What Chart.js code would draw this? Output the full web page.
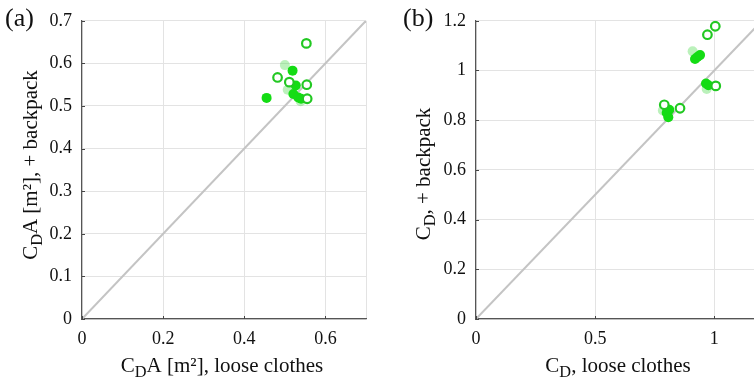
<!DOCTYPE html>
<html>
<head>
<meta charset="utf-8">
<script src="https://cdn.jsdelivr.net/npm/chart.js@4.4.1/dist/chart.umd.min.js"></script>
<style>
html,body{margin:0;padding:0;background:#fff;overflow:hidden;width:754px;height:384px;}
#wa{position:absolute;left:0;top:0;width:380px;height:384px;}
#wb{position:absolute;left:380px;top:0;width:410px;height:384px;}
</style>
</head>
<body>
<div id="wa"><canvas id="ca" width="380" height="384"></canvas></div>
<div id="wb"><canvas id="cb" width="410" height="384"></canvas></div>
<script>
// ---- Panel (a): CdA [m²] ----
const aHollowX = [0.553, 0.482, 0.511, 0.554, 0.555];
const aHollowY = [0.647, 0.567, 0.556, 0.550, 0.517];
const aFilledX = [0.519, 0.527, 0.455, 0.521, 0.533, 0.540];
const aFilledY = [0.583, 0.548, 0.519, 0.528, 0.520, 0.517];
const aFadedX  = [0.500, 0.507, 0.539];
const aFadedY  = [0.596, 0.538, 0.511];
const aXTicks = [0, 0.2, 0.4, 0.6];
const aYTicks = [0, 0.1, 0.2, 0.3, 0.4, 0.5, 0.6, 0.7];

// ---- Panel (b): Cd ----
const bHollowX = [1.004, 0.971, 1.006, 0.856, 0.790];
const bHollowY = [1.178, 1.144, 0.938, 0.848, 0.862];
const bFilledX = [0.919, 0.929, 0.940, 0.965, 0.975, 0.811, 0.807, 0.800];
const bFilledY = [1.046, 1.054, 1.062, 0.948, 0.941, 0.842, 0.812, 0.830];
const bFadedX  = [0.909, 0.968, 0.784];
const bFadedY  = [1.077, 0.926, 0.839];
const bXTicks = [0, 0.5, 1];
const bYTicks = [0, 0.2, 0.4, 0.6, 0.8, 1, 1.2];

const SERIF = "'Liberation Serif', 'DejaVu Serif', serif";
const TEXT = '#111111';
const pts = (xs, ys) => xs.map((x, i) => ({x: x, y: ys[i]}));
const fmt = v => String(+(+v).toFixed(2));

function drawRich(ctx, segs, size) {
  let x = 0;
  segs.forEach(s => {
    const fs = s.sub ? size * 0.78 : size;
    ctx.font = fs + 'px ' + SERIF;
    ctx.fillText(s.t, x, s.sub ? size * 0.22 : 0);
    x += ctx.measureText(s.t).width;
  });
  return x;
}
function richWidth(ctx, segs, size) {
  let w = 0;
  segs.forEach(s => {
    ctx.font = (s.sub ? size * 0.78 : size) + 'px ' + SERIF;
    w += ctx.measureText(s.t).width;
  });
  return w;
}

function labelsPlugin(cfg) {
  return {
    id: 'labels' + cfg.tag,
    afterDraw(chart) {
      const ctx = chart.ctx;
      const ca = chart.chartArea;
      const xs = chart.scales.x, ys = chart.scales.y;
      ctx.save();
      ctx.strokeStyle = '#444';
      ctx.lineWidth = 1;
      cfg.xTicks.forEach(v => {
        const px = Math.round(xs.getPixelForValue(v)) + 0.5;
        ctx.beginPath(); ctx.moveTo(px, ca.bottom); ctx.lineTo(px, ca.bottom - 3); ctx.stroke();
      });
      cfg.yTicks.forEach(v => {
        const py = Math.round(ys.getPixelForValue(v)) + 0.5;
        ctx.beginPath(); ctx.moveTo(ca.left, py); ctx.lineTo(ca.left + 3, py); ctx.stroke();
      });
      ctx.fillStyle = TEXT;
      ctx.textBaseline = 'alphabetic';
      ctx.textAlign = 'left';
      ctx.font = '26px ' + SERIF;
      ctx.fillText(cfg.letter, cfg.letterX, 26);
      const TS = 21;
      const wx = richWidth(ctx, cfg.xTitle, TS);
      ctx.save();
      ctx.translate(cfg.xTitleCx - wx / 2, 372);
      drawRich(ctx, cfg.xTitle, TS);
      ctx.restore();
      const wy = richWidth(ctx, cfg.yTitle, TS);
      ctx.save();
      ctx.translate(cfg.yTitleBx, cfg.yTitleCy + wy / 2);
      ctx.rotate(-Math.PI / 2);
      drawRich(ctx, cfg.yTitle, TS);
      ctx.restore();
      ctx.restore();
    }
  };
}

function makeChart(id, d) {
  const lineColor = '#c4c4c4';
  return new Chart(document.getElementById(id), {
    type: 'scatter',
    data: {
      datasets: [
        {
          label: 'hollow', data: d.hollow, order: 1,
          pointRadius: 4.3, pointBorderWidth: 2.2,
          pointBackgroundColor: '#ffffff', pointBorderColor: '#22c822'
        },
        {
          label: 'filled', data: d.filled, order: 2,
          pointRadius: 5, pointBorderWidth: 0,
          pointBackgroundColor: '#14dc14', pointBorderColor: '#14dc14'
        },
        {
          label: 'faded', data: d.faded, order: 3,
          pointRadius: 5, pointBorderWidth: 0,
          pointBackgroundColor: 'rgba(60,215,60,0.35)', pointBorderColor: 'rgba(60,215,60,0.35)'
        },
        {
          label: 'identity', data: [{x: 0, y: 0}, {x: d.max, y: d.max}], order: 10,
          showLine: true, pointRadius: 0, borderColor: lineColor, borderWidth: 2, fill: false
        }
      ]
    },
    options: {
      responsive: false,
      animation: false,
      events: [],
      layout: {padding: {left: 0, top: 20, right: d.padRight, bottom: 0}},
      plugins: {legend: {display: false}, tooltip: {enabled: false}},
      scales: {
        x: {
          type: 'linear', min: 0, max: d.xMax,
          afterFit: s => { s.height = 65; },
          afterBuildTicks: s => { s.ticks = d.xTicks.concat([d.xMax]).map(v => ({value: v})); },
          ticks: {
            padding: 9, color: TEXT, font: {family: SERIF, size: 18},
            callback: v => (d.xTicks.some(t => Math.abs(t - v) < 1e-9) ? fmt(v) : '')
          },
          grid: {color: '#e3e3e3', drawTicks: false, lineWidth: 1},
          border: {display: true, color: '#555', width: 1.2}
        },
        y: {
          type: 'linear', min: 0, max: d.yMax,
          afterFit: s => { s.width = d.yWidth; },
          afterBuildTicks: s => { s.ticks = d.yTicks.map(v => ({value: v})); },
          ticks: {
            padding: 10, color: TEXT, font: {family: SERIF, size: 18},
            callback: v => fmt(v)
          },
          grid: {color: '#e3e3e3', drawTicks: false, lineWidth: 1},
          border: {display: true, color: '#555', width: 1.2}
        }
      }
    },
    plugins: [labelsPlugin(d.labels)]
  });
}

makeChart('ca', {
  hollow: pts(aHollowX, aHollowY), filled: pts(aFilledX, aFilledY), faded: pts(aFadedX, aFadedY),
  max: 0.7, xMax: 0.7, yMax: 0.7, xTicks: aXTicks, yTicks: aYTicks,
  yWidth: 82, padRight: 14,
  labels: {
    tag: 'a', letter: '(a)', letterX: 5, xTicks: aXTicks, yTicks: aYTicks,
    xTitle: [{t: 'C'}, {t: 'D', sub: true}, {t: 'A [m²], loose clothes'}], xTitleCx: 222,
    yTitle: [{t: 'C'}, {t: 'D', sub: true}, {t: 'A [m²], + backpack'}], yTitleCy: 165, yTitleBx: 37
  }
});

makeChart('cb', {
  hollow: pts(bHollowX, bHollowY), filled: pts(bFilledX, bFilledY), faded: pts(bFadedX, bFadedY),
  max: 1.2, xMax: 1.2, yMax: 1.2, xTicks: bXTicks, yTicks: bYTicks,
  yWidth: 96, padRight: 28,
  labels: {
    tag: 'b', letter: '(b)', letterX: 23, xTicks: bXTicks, yTicks: bYTicks,
    xTitle: [{t: 'C'}, {t: 'D', sub: true}, {t: ', loose clothes'}], xTitleCx: 238,
    yTitle: [{t: 'C'}, {t: 'D', sub: true}, {t: ', + backpack'}], yTitleCy: 174, yTitleBx: 50
  }
});
</script>
</body>
</html>
